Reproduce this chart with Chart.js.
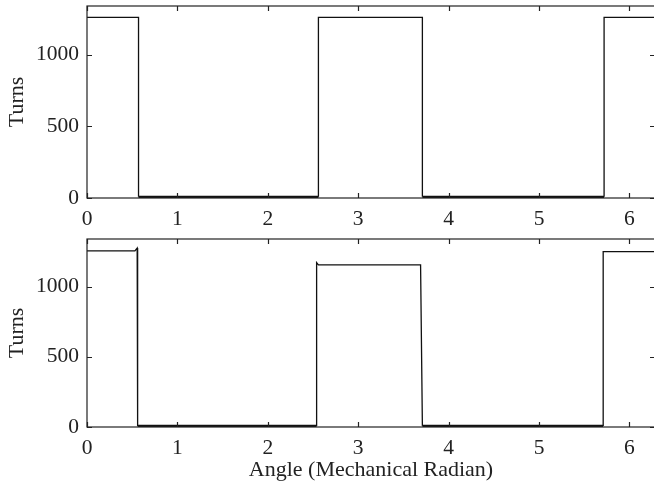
<!DOCTYPE html>
<html>
<head>
<meta charset="utf-8">
<script src="https://cdn.jsdelivr.net/npm/chart.js@4/dist/chart.umd.min.js"></script>
<style>
  html, body { margin: 0; padding: 0; background: #fff; overflow: hidden; }
  #topChart { position: absolute; left: 0; top: 0; }
  #bottomChart { position: absolute; left: 0; top: 232px; }
</style>
</head>
<body>
<canvas id="topChart" width="655" height="232"></canvas>
<canvas id="bottomChart" width="655" height="252"></canvas>
<script>
// angle (mechanical rad) / turns
const topAngle = [0, 0.57, 0.57, 2.56, 2.56, 3.71, 3.71, 5.72, 5.72, 6.283];
const topTurns = [1260, 1260, 8, 8, 1260, 1260, 8, 8, 1260, 1260];

const bottomAngle = [0, 0.53, 0.555, 0.56, 2.54, 2.54, 2.56, 3.69, 3.71, 5.71, 5.71, 6.283];
const bottomTurns = [1255, 1255, 1275, 8, 8, 1172, 1156, 1156, 8, 8, 1250, 1250];

const xTicks = [0, 1, 2, 3, 4, 5, 6];
const yTicks = [0, 500, 1000];
const yMax = 1340;

const family = "'Liberation Serif', 'Times New Roman', serif";
const tickFont = { family, size: 21.5 };
const titleFont = { family, size: 22 };
const ink = "#222";

// MATLAB-like box with inward ticks
const boxTicks = {
  id: "boxTicks",
  afterDatasetsDraw(chart) {
    const { ctx, chartArea: a, scales: { x, y } } = chart;
    ctx.save();
    ctx.strokeStyle = ink;
    ctx.lineWidth = 1.2;
    ctx.strokeRect(a.left, a.top, a.right - a.left, a.bottom - a.top);
    ctx.beginPath();
    x.ticks.forEach((t) => {
      const px = Math.round(x.getPixelForValue(t.value)) + 0.5;
      ctx.moveTo(px, a.bottom); ctx.lineTo(px, a.bottom - 5);
      ctx.moveTo(px, a.top); ctx.lineTo(px, a.top + 5);
    });
    y.ticks.forEach((t) => {
      const py = Math.round(y.getPixelForValue(t.value)) + 0.5;
      ctx.moveTo(a.left, py); ctx.lineTo(a.left + 5, py);
      ctx.moveTo(a.right, py); ctx.lineTo(a.right - 5, py);
    });
    ctx.stroke();
    ctx.restore();
  },
};

function makeChart(id, angles, turns, showTitle, padTop) {
  const ctx = document.getElementById(id).getContext("2d");
  return new Chart(ctx, {
    type: "line",
    data: {
      datasets: [
        {
          data: angles.map((a, i) => ({ x: a, y: turns[i] })),
          borderColor: "#111",
          borderWidth: 1.3,
          pointRadius: 0,
          tension: 0,
          fill: false,
          segment: {
            borderWidth: (c) => (c.p0.parsed.y < 50 && c.p1.parsed.y < 50 ? 2.2 : 1.3),
          },
        },
      ],
    },
    options: {
      responsive: false,
      animation: false,
      layout: { padding: { top: padTop, right: 0, left: 0, bottom: 0 } },
      scales: {
        x: {
          type: "linear",
          min: 0,
          max: 2 * Math.PI,
          afterBuildTicks: (s) => { s.ticks = xTicks.map((v) => ({ value: v })); },
          afterFit: (s) => {
            s.height = showTitle ? 57 : 34;
            s.paddingLeft = 0;
            s.paddingRight = 0;
          },
          grid: { display: false, drawTicks: false },
          border: { display: false },
          ticks: { color: ink, font: tickFont, padding: 8, maxRotation: 0, autoSkip: false },
          title: {
            display: showTitle,
            text: "Angle (Mechanical Radian)",
            color: ink,
            font: titleFont,
            padding: { top: 0, bottom: 1 },
          },
        },
        y: {
          min: 0,
          max: yMax,
          afterBuildTicks: (s) => { s.ticks = yTicks.map((v) => ({ value: v })); },
          afterFit: (s) => {
            s.width = 87;
            s.paddingTop = 0;
            s.paddingBottom = 0;
          },
          grid: { display: false, drawTicks: false },
          border: { display: false },
          ticks: { color: ink, font: tickFont, padding: 8, callback: (v) => String(v) },
          title: { display: true, text: "Turns", color: ink, font: titleFont, padding: { top: 4, bottom: 0 } },
        },
      },
      plugins: {
        legend: { display: false },
        tooltip: { enabled: false },
      },
    },
    plugins: [boxTicks],
  });
}

makeChart("topChart", topAngle, topTurns, false, 6);
makeChart("bottomChart", bottomAngle, bottomTurns, true, 7);
</script>
</body>
</html>
